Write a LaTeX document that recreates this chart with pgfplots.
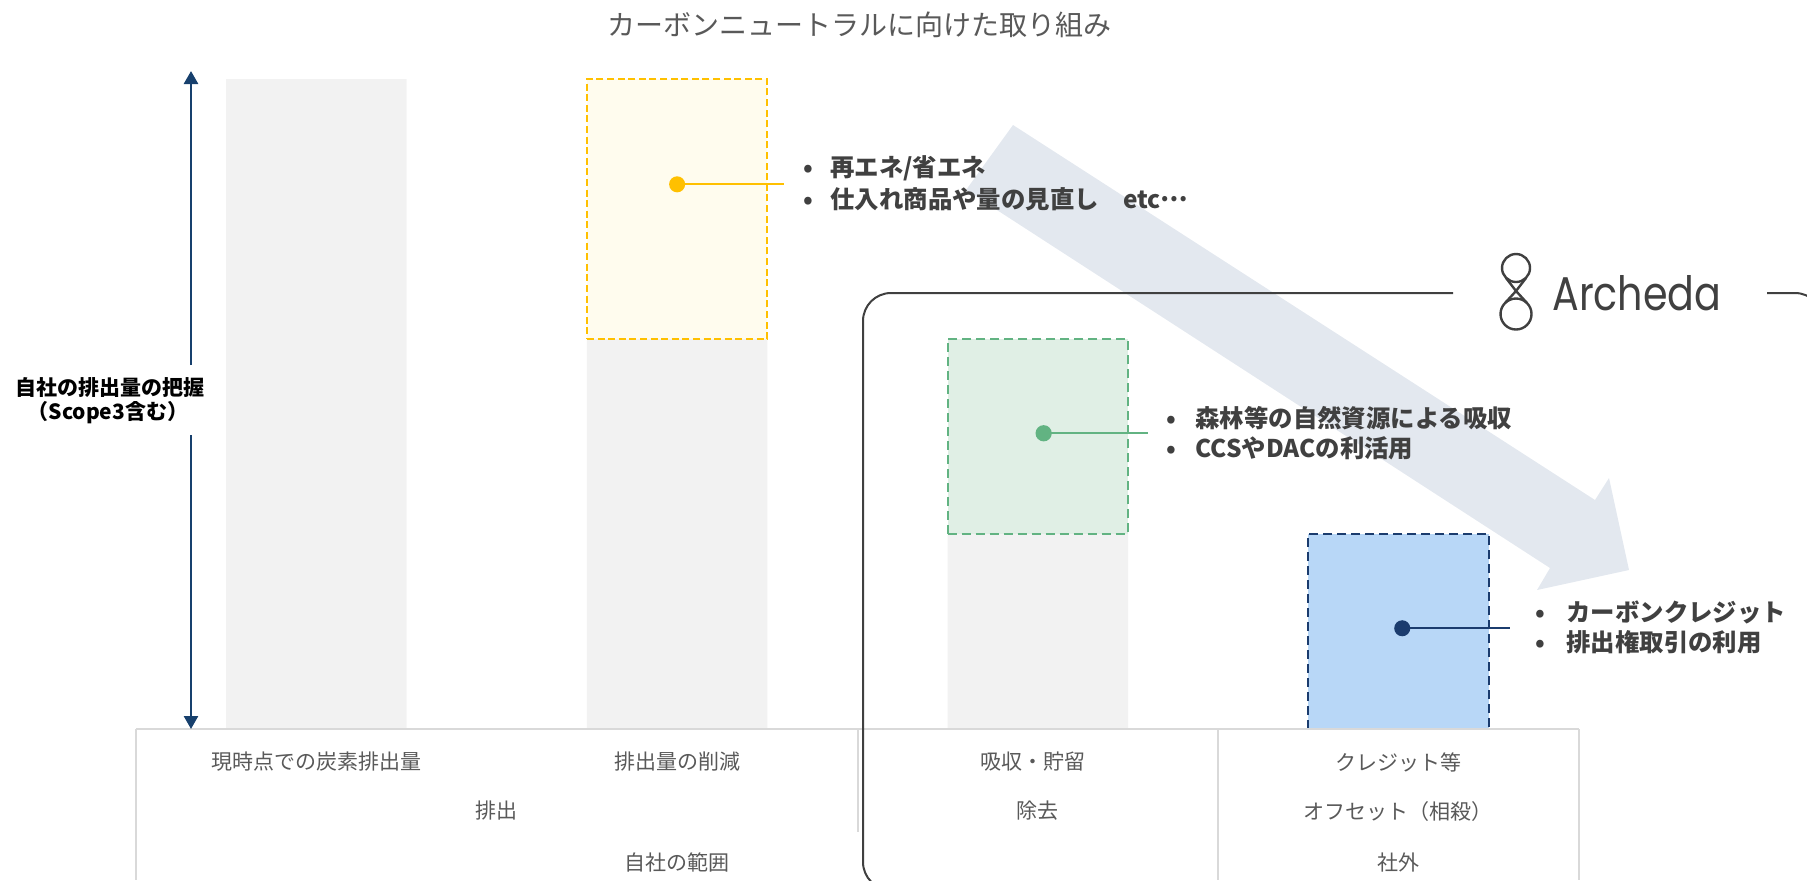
\documentclass[border=0pt]{standalone}
\usepackage{fontspec}
\usepackage{pgfplots}
\pgfplotsset{compat=1.18}
\usetikzlibrary{arrows.meta}
\setmainfont{Noto Sans CJK JP}
\newfontfamily\logofont{Poppins}
\definecolor{barGray}{HTML}{F2F2F2}
\definecolor{yelF}{HTML}{FFFCEE}
\definecolor{yelD}{HTML}{FFC000}
\definecolor{grnF}{HTML}{E0EFE5}
\definecolor{grnD}{HTML}{62B382}
\definecolor{bluF}{HTML}{B8D7F7}
\definecolor{bluD}{HTML}{1B3C6E}
\definecolor{arrC}{HTML}{E3E8EF}
\definecolor{navy}{HTML}{17406D}
\definecolor{tblC}{HTML}{D9D9D9}
\definecolor{txtG}{HTML}{595959}
\definecolor{txtD}{HTML}{404040}
\begin{document}
\begin{tikzpicture}[x=0.5pt,y=-0.5pt]
\useasboundingbox (0,0) rectangle (1807,880);
\begin{scope}
\clip (0,0) rectangle (1807,880);
% big diagonal arrow
\fill[arrC] (1013,125) -- (1595,500) -- (1609,478) -- (1629,570) -- (1537,590) -- (1550,568) -- (966,190) -- cycle;
% chart
\begin{scope}[x=1cm,y=1cm]
\begin{axis}[at={(68pt,-364.5pt)}, anchor=south west, scale only axis,
  width=721.5pt, height=325pt, xmin=-0.5, xmax=3.5, ymin=0, ymax=100,
  hide axis, clip=false]
\addplot[ybar, bar width=0.5, bar shift=0pt, fill=barGray, draw=none] coordinates {(0,100) (1,60) (2,30)};
\addplot[fill=yelF, draw=yelD, line width=1pt, dash pattern=on 3.5pt off 1.8pt] coordinates {(0.75,60) (1.25,60) (1.25,100) (0.75,100)} -- cycle;
\addplot[fill=grnF, draw=grnD, line width=0.8pt, dash pattern=on 4.5pt off 2.5pt] coordinates {(1.75,30) (2.25,30) (2.25,60) (1.75,60)} -- cycle;
\addplot[fill=bluF, draw=bluD, line width=1pt, dash pattern=on 4.5pt off 2.5pt] coordinates {(2.75,0) (3.25,0) (3.25,30) (2.75,30)} -- cycle;
\addplot[yelD, line width=1pt, mark=*, mark size=3.5pt, mark indices={1}, mark options={solid, fill=yelD}] coordinates {(1,83.8) (1.296,83.8)};
\addplot[grnD, line width=1.1pt, mark=*, mark size=3.5pt, mark indices={1}, mark options={solid, fill=grnD}] coordinates {(2.016,45.5) (2.305,45.5)};
\addplot[bluD, line width=1pt, mark=*, mark size=3.5pt, mark indices={1}, mark options={solid, fill=bluD}] coordinates {(3.01,15.5) (3.309,15.5)};
\end{axis}
\end{scope}
% table
\draw[tblC, line width=1pt] (136,729) -- (1579,729);
\draw[tblC, line width=0.6pt] (136,729) -- (136,880);
\draw[tblC, line width=0.6pt] (1579,729) -- (1579,880);
\draw[tblC, line width=0.6pt] (1218,729) -- (1218,880);
\draw[tblC, line width=0.6pt] (858,729) -- (858,832);
\begin{scope}[every node/.style={text=txtG, font=\fontsize{10.5pt}{12pt}\selectfont, inner sep=0pt}]
\node at (316,762) {現時点での炭素排出量};
\node at (677,762) {排出量の削減};
\node at (1033,762) {吸収・貯留};
\node at (1398,762) {クレジット等};
\node at (496,811) {排出};
\node at (1037,811) {除去};
\node at (1398,811) {オフセット（相殺）};
\node at (677,862) {自社の範囲};
\node at (1398,862) {社外};
\end{scope}
% rounded frame
\draw[txtD, line width=1pt, rounded corners=14pt] (1453,293) -| (863,890) -- (1000,890);
\draw[txtD, line width=1pt, rounded corners=14pt] (1767,293) -| (1823,890);
% logo
\draw[txtD, line width=1.2pt] (1516,268) circle (14);
\draw[txtD, line width=1.2pt] (1516,314) circle (15.5);
\draw[txtD, line width=1.2pt] (1506,278) -- (1516,291) -- (1526,278);
\draw[txtD, line width=1.2pt] (1505,303) -- (1516,291) -- (1527,303);
\node[anchor=south west, inner sep=0pt, text=txtD] at (1552,311) {\resizebox{84.5pt}{17.5pt}{\logofont Archeda}};
% bullet texts
\begin{scope}[every node/.style={text=txtD, font=\fontsize{12.2pt}{14pt}\selectfont\bfseries, inner sep=0pt, anchor=west}]
\node at (803,168) {\makebox[13.5pt][l]{•}再エネ/省エネ};
\node at (803,199) {\makebox[13.5pt][l]{•}仕入れ商品や量の見直し　etc\raisebox{0.28em}{…}};
\node at (1166,418) {\makebox[14.5pt][l]{•}森林等の自然資源による吸収};
\node at (1166,448) {\makebox[14.5pt][l]{•}CCSやDACの利活用};
\node at (1535,612) {\makebox[15.5pt][l]{•}カーボンクレジット};
\node at (1535,642) {\makebox[15.5pt][l]{•}排出権取引の利用};
\end{scope}
% left arrow & label
\draw[navy, line width=1.3pt, -{Triangle[width=7pt,length=6.5pt]}] (191,365) -- (191,71);
\draw[navy, line width=1.3pt, -{Triangle[width=7pt,length=6.5pt]}] (191,435) -- (191,729);
\node[font=\fontsize{10.5pt}{12pt}\selectfont\bfseries, inner sep=0pt] at (110,388) {自社の排出量の把握};
\node[font=\fontsize{10.5pt}{12pt}\selectfont\bfseries, inner sep=0pt] at (108,413) {（Scope3含む）};
% title
\node[text=txtG, font=\fontsize{14pt}{16pt}\selectfont, inner sep=0pt] at (859,25) {カーボンニュートラルに向けた取り組み};
\end{scope}
\end{tikzpicture}
\end{document}
